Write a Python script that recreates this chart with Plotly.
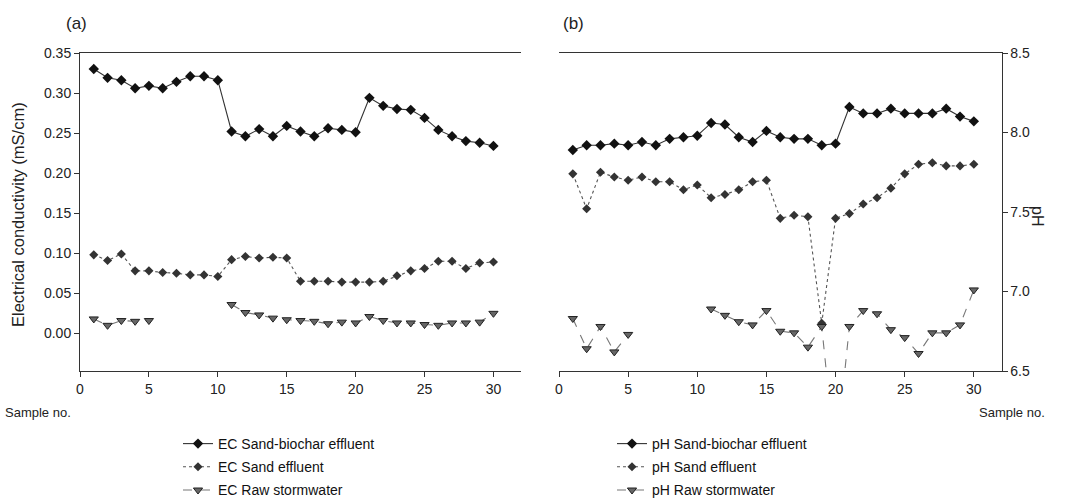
import plotly.graph_objects as go

samples = list(range(1, 31))

ec_biochar = [0.330, 0.319, 0.316, 0.306, 0.309, 0.306, 0.314, 0.321, 0.321, 0.316,
              0.252, 0.246, 0.255, 0.246, 0.259, 0.252, 0.246, 0.256, 0.254, 0.251,
              0.294, 0.284, 0.280, 0.279, 0.269, 0.254, 0.246, 0.240, 0.238, 0.234]
ec_sand = [0.098, 0.091, 0.099, 0.078, 0.078, 0.076, 0.075, 0.073, 0.073, 0.071,
           0.092, 0.096, 0.094, 0.095, 0.094, 0.065, 0.065, 0.065, 0.064, 0.064,
           0.064, 0.065, 0.072, 0.078, 0.081, 0.090, 0.090, 0.081, 0.088, 0.089]
ec_raw = [0.018, 0.010, 0.016, 0.015, 0.016, None, None, None, None, None,
          0.036, 0.026, 0.023, 0.019, 0.017, 0.016, 0.015, 0.012, 0.014, 0.013,
          0.021, 0.016, 0.013, 0.013, 0.011, 0.010, 0.013, 0.013, 0.014, 0.025]

ph_biochar = [7.89, 7.92, 7.92, 7.93, 7.92, 7.94, 7.92, 7.96, 7.97, 7.98,
              8.06, 8.05, 7.97, 7.94, 8.01, 7.97, 7.96, 7.96, 7.92, 7.93,
              8.16, 8.12, 8.12, 8.15, 8.12, 8.12, 8.12, 8.15, 8.10, 8.07]
ph_sand = [7.74, 7.52, 7.75, 7.72, 7.70, 7.72, 7.69, 7.69, 7.64, 7.67,
           7.59, 7.61, 7.64, 7.69, 7.70, 7.46, 7.48, 7.47, 6.80, 7.46,
           7.49, 7.55, 7.59, 7.65, 7.74, 7.80, 7.81, 7.79, 7.79, 7.80]
ph_raw = [6.83, 6.64, 6.78, 6.62, 6.73, None, None, None, None, None,
          6.89, 6.85, 6.81, 6.79, 6.88, 6.75, 6.74, 6.65, 6.78, 5.93,
          6.78, 6.88, 6.86, 6.76, 6.71, 6.61, 6.74, 6.74, 6.79, 7.01]

x_ticks = [0, 5, 10, 15, 20, 25, 30]
ec_ticks = [0.00, 0.05, 0.10, 0.15, 0.20, 0.25, 0.30, 0.35]
ph_ticks = [6.5, 7.0, 7.5, 8.0, 8.5]

W, H = 1069, 502
FONT = "Liberation Sans, Arial, sans-serif"

def style(kind):
    if kind == "biochar":
        return dict(mode="lines+markers",
                    line=dict(color="#333333", width=1.1),
                    marker=dict(symbol="diamond", size=8, color="#111111"))
    if kind == "sand":
        return dict(mode="lines+markers",
                    line=dict(color="#555555", width=1.1, dash="dot"),
                    marker=dict(symbol="diamond", size=7, color="#333333"))
    return dict(mode="lines+markers", connectgaps=False,
                line=dict(color="#777777", width=1.1, dash="dash"),
                marker=dict(symbol="triangle-down", size=8, color="#666666",
                            line=dict(color="#222222", width=1)))

fig = go.Figure()
left = [("EC Sand-biochar effluent", ec_biochar, "biochar"),
        ("EC Sand effluent", ec_sand, "sand"),
        ("EC Raw stormwater", ec_raw, "raw")]
right = [("pH Sand-biochar effluent", ph_biochar, "biochar"),
         ("pH Sand effluent", ph_sand, "sand"),
         ("pH Raw stormwater", ph_raw, "raw")]
for i, (name, vals, kind) in enumerate(left):
    fig.add_trace(go.Scatter(x=samples, y=vals, name=name, xaxis="x", yaxis="y",
                             legend="legend", legendgroup="l%d" % i, **style(kind)))
for i, (name, vals, kind) in enumerate(right):
    fig.add_trace(go.Scatter(x=samples, y=vals, name=name, xaxis="x2", yaxis="y2",
                             legend="legend2", legendgroup="r%d" % i, **style(kind)))

xdom1 = [80 / W, 521 / W]
xdom2 = [559 / W, 1001.5 / W]
ydom = [1 - 371 / H, 1 - 53 / H]

axis_common = dict(showgrid=False, zeroline=False, showline=True, linecolor="#333333",
                   linewidth=1, ticks="outside", ticklen=5, tickcolor="#333333",
                   tickfont=dict(family=FONT, size=14, color="#222222"))

legend_common = dict(xanchor="left", yanchor="top",
                     font=dict(family=FONT, size=14, color="#111111"),
                     bgcolor="rgba(0,0,0,0)", tracegroupgap=2, itemwidth=30)

fig.update_layout(
    width=W, height=H, margin=dict(l=0, r=0, t=0, b=0, autoexpand=False),
    paper_bgcolor="white", plot_bgcolor="white",
    xaxis=dict(domain=xdom1, anchor="y", range=[0, 32], tickvals=x_ticks,
               mirror=True, **axis_common),
    yaxis=dict(domain=ydom, anchor="x", range=[-0.047, 0.35], tickvals=ec_ticks,
               tickformat=".2f", **axis_common),
    xaxis2=dict(domain=xdom2, anchor="y2", range=[0, 32], tickvals=x_ticks,
                mirror=True, **axis_common),
    yaxis2=dict(domain=ydom, anchor="x2", side="right", range=[6.5, 8.5],
                tickvals=ph_ticks, tickformat=".1f", **axis_common),
    showlegend=True,
    legend=dict(x=178 / W, y=1 - 428 / H, **legend_common),
    legend2=dict(x=612 / W, y=1 - 428 / H, **legend_common),
)

annots = [
    dict(text="(a)", x=76, y=24, size=17, angle=0),
    dict(text="(b)", x=573, y=24, size=17, angle=0),
    dict(text="Sample no.", x=38, y=412, size=13, angle=0),
    dict(text="Sample no.", x=1012, y=412, size=13, angle=0),
    dict(text="Electrical conductivity (mS/cm)", x=18, y=215, size=16.5, angle=-90),
    dict(text="pH", x=1038, y=216, size=16, angle=90),
]
for a in annots:
    fig.add_annotation(text=a["text"], xref="paper", yref="paper",
                       x=a["x"] / W, y=1 - a["y"] / H, xanchor="center", yanchor="middle",
                       showarrow=False, textangle=a["angle"],
                       font=dict(family=FONT, size=a["size"], color="#222222"))

fig.write_html("out.html")
